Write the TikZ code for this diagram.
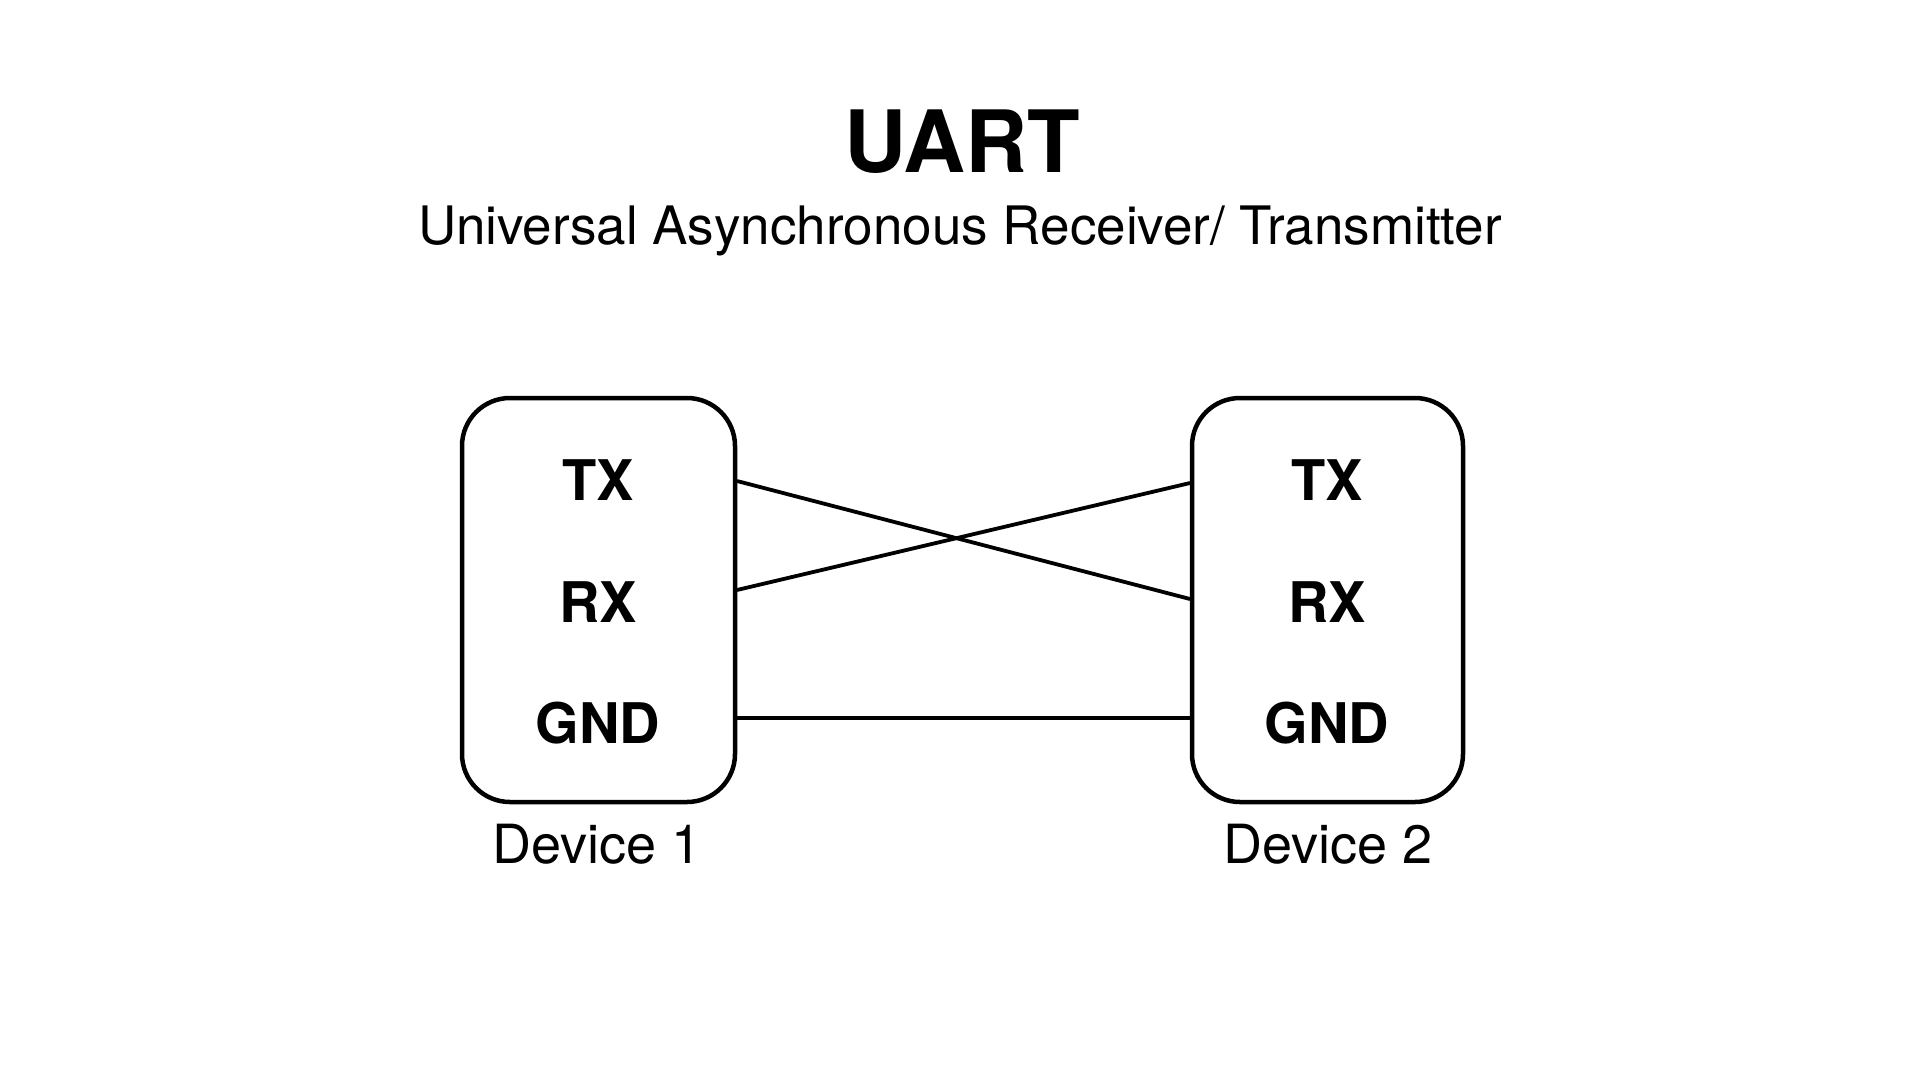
\documentclass[tikz,border=0pt]{standalone}
\usepackage{fontspec}
\setmainfont{TeX Gyre Heros}
\begin{document}
\begin{tikzpicture}[x=1pt,y=-1pt,
  device/.style={draw=black,line width=4.5pt,rounded corners=48pt,inner sep=0pt},
  pin/.style={font=\fontsize{56}{60}\selectfont\bfseries,anchor=base,inner sep=0pt},
  devlabel/.style={font=\fontsize{54}{60}\selectfont,anchor=base,inner sep=0pt},
  wire/.style={draw=black,line width=3.8pt}]
\useasboundingbox[fill=white] (0,0) rectangle (1920,1080);
\node[font=\fontsize{86}{90}\selectfont\bfseries,anchor=base,inner sep=0pt] (title) at (962,172) {UART};
\node[font=\fontsize{53}{60}\selectfont,anchor=base,inner sep=0pt] (sub) at (960,244) {Universal Asynchronous Receiver/ Transmitter};
\draw[device] (462,398) rectangle (735,802);
\draw[device] (1192,398) rectangle (1463,802);
\node[pin] (tx1) at (598,500) {TX};
\node[pin] (rx1) at (598,622) {RX};
\node[pin] (gnd1) at (598,743) {GND};
\node[pin] (tx2) at (1327,500) {TX};
\node[pin] (rx2) at (1327,622) {RX};
\node[pin] (gnd2) at (1327,743) {GND};
\node[devlabel] (d1) at (597,863) {Device 1};
\node[devlabel] (d2) at (1328,863) {Device 2};
\coordinate (t1) at (737,481);
\coordinate (r1) at (737,590);
\coordinate (g1) at (737,718);
\coordinate (t2) at (1190,483);
\coordinate (r2) at (1190,599);
\coordinate (g2) at (1190,718);
\draw[wire] (t1) -- (r2);
\draw[wire] (r1) -- (t2);
\draw[wire] (g1) -- (g2);
\end{tikzpicture}
\end{document}
